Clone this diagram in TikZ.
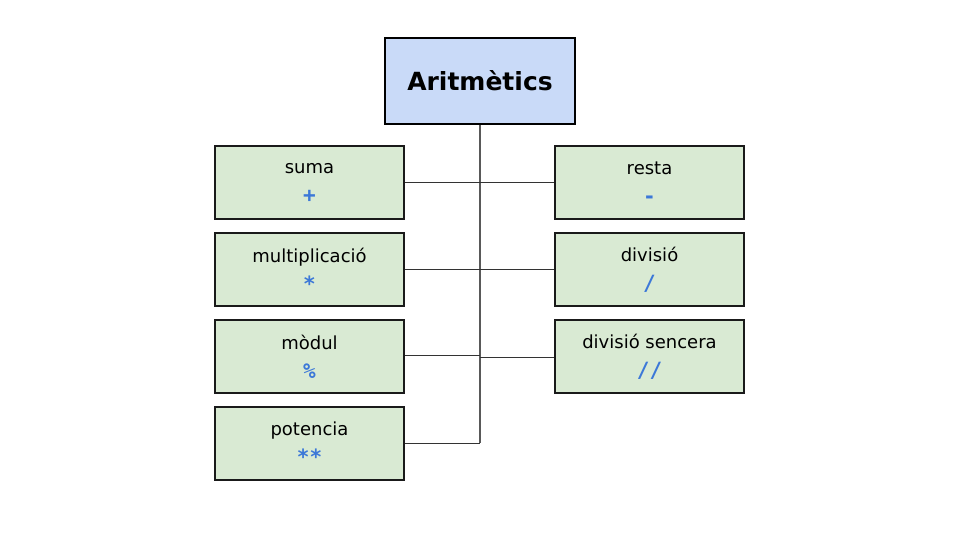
\documentclass[tikz,border=0pt]{standalone}
\usepackage{fontspec}
\setmainfont{DejaVu Sans}
\setmonofont{DejaVu Sans Mono}
\begin{document}
\begin{tikzpicture}[x=1pt,y=-1pt,
  opbox/.style={draw=boxborder,line width=1.8pt,fill=opfill,minimum width=189pt,minimum height=73pt,inner sep=0pt,align=center,font=\fontsize{18}{29}\selectfont},
  topbox/.style={draw=black,line width=2.8pt,fill=topfill,minimum width=190pt,minimum height=86pt,inner sep=0pt,font=\bfseries\fontsize{25}{30}\selectfont},
  trunk/.style={draw=trunkgray,line width=1.3pt},
  branch/.style={draw=branchgray,line width=1pt}]
\definecolor{opfill}{HTML}{D9EAD3}
\definecolor{topfill}{HTML}{C9DAF8}
\definecolor{symblue}{HTML}{3C78D8}
\definecolor{boxborder}{HTML}{1A1A1A}
\definecolor{trunkgray}{HTML}{595959}
\definecolor{branchgray}{HTML}{333333}
\newcommand{\opsym}[1]{\textcolor{symblue}{\fontsize{21}{29}\selectfont\ttfamily\bfseries #1}}
\useasboundingbox (0,0) rectangle (960,540);
\node[topbox] (top) at (480,81) {Aritmètics};
\node[opbox] (suma) at (309.5,182.5) {suma\\\opsym{+}};
\node[opbox] (mult) at (309.5,269.5) {multiplicació\\\opsym{*}};
\node[opbox] (modul) at (309.5,356.5) {mòdul\\\opsym{\%}};
\node[opbox] (pot) at (309.5,443.5) {potencia\\\opsym{**}};
\node[opbox] (resta) at (649.5,182.5) {resta\\\opsym{-}};
\node[opbox] (div) at (649.5,269.5) {divisió\\\opsym{/}};
\node[opbox] (divs) at (649.5,356.5) {divisió sencera\\\opsym{//}};
\coordinate (bot) at (480,443);
\coordinate (j3) at (480,355);
\coordinate (j3r) at (480,357);
\draw[trunk] (top.south) -- (bot);
\draw[branch] (suma.east) -- (resta.west);
\draw[branch] (mult.east) -- (div.west);
\draw[branch] (modul.east |- j3) -- (j3);
\draw[branch] (j3r) -- (divs.west |- j3r);
\draw[branch] (pot.east |- bot) -- (bot);
\end{tikzpicture}
\end{document}
